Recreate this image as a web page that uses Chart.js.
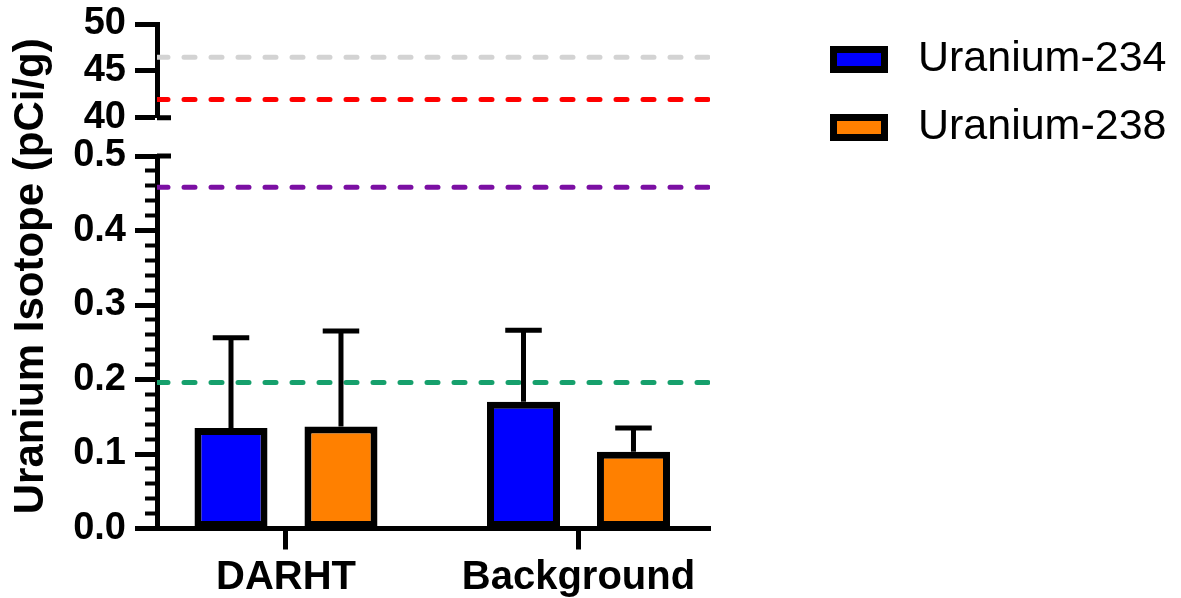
<!DOCTYPE html>
<html>
<head>
<meta charset="utf-8">
<script src="https://cdn.jsdelivr.net/npm/chart.js@4.4.1/dist/chart.umd.min.js"></script>
<style>
  html, body { margin: 0; padding: 0; background: #fff; }
</style>
</head>
<body>
<canvas id="grafico" width="1181" height="598"></canvas>
<script>
// dados
const categorias = ['DARHT', 'Background'];
const series = ['Uranium-234', 'Uranium-238'];
const u234 = [0.135, 0.170];
const u238 = [0.137, 0.103];
const u234Erro = [0.121, 0.096];
const u238Erro = [0.128, 0.032];
const coresBarras = ['#0000FF', '#FF8000'];

// linhas de referência tracejadas
const refAlto = [46.45, 41.95];
const corRefAlto = ['#D3D3D3', '#FF0000'];
const refBaixo = [0.458, 0.196];
const corRefBaixo = ['#7B0FA3', '#16A06C'];

// rótulos dos eixos
const ticksAlto = [40, 45, 50];
const ticksBaixo = ['0.0', '0.1', '0.2', '0.3', '0.4', '0.5'];

const FONTE = 'Liberation Sans, Arial, Helvetica, sans-serif';
const X_MIN = -0.441;
const X_MAX = 1.4496;

window.onload = () => {
    apresentarGrafico();
}

// barras de erro (só para cima)
const barrasDeErro = {
    id: 'barrasDeErro',
    afterDatasetsDraw(chart) {
        const ctx = chart.ctx;
        const escala = chart.scales.yLow;
        [u234Erro, u238Erro].forEach((erros, d) => {
            const meta = chart.getDatasetMeta(d);
            meta.data.forEach((barra, i) => {
                const valor = chart.data.datasets[d].data[i].y;
                const yTopo = escala.getPixelForValue(valor + erros[i]);
                const meia = barra.width / 4;
                ctx.save();
                ctx.strokeStyle = '#000';
                ctx.lineWidth = 5;
                ctx.beginPath();
                ctx.moveTo(barra.x, barra.y);
                ctx.lineTo(barra.x, yTopo - 2.5);
                ctx.moveTo(barra.x - meia, yTopo);
                ctx.lineTo(barra.x + meia, yTopo);
                ctx.stroke();
                ctx.restore();
            });
        });
    }
};

// pontas do eixo quebrado
const pontasEixo = {
    id: 'pontasEixo',
    afterDraw(chart) {
        const ctx = chart.ctx;
        const { yHigh, yLow } = chart.scales;
        ctx.save();
        ctx.strokeStyle = '#000';
        ctx.lineWidth = 5;
        ctx.beginPath();
        [[yHigh, 40], [yLow, 0.5]].forEach(([escala, v]) => {
            const y = escala.getPixelForValue(v);
            ctx.moveTo(escala.right, y);
            ctx.lineTo(escala.right + 14, y);
        });
        ctx.stroke();
        ctx.restore();
    }
};

function apresentarGrafico() {
    const barras = [u234, u238].map((valores, d) => ({
        label: series[d],
        data: categorias.map((c, i) => ({ x: i, y: valores[i] })),
        backgroundColor: coresBarras[d],
        borderColor: '#000',
        borderWidth: 7,
        borderSkipped: false,
        xAxisID: 'x',
        yAxisID: 'yLow',
        categoryPercentage: 0.752,
        barPercentage: 0.664
    }));

    const linha = (v, cor, eixo) => ({
        type: 'line',
        data: [{ x: X_MIN, y: v }, { x: X_MAX, y: v }],
        xAxisID: 'x',
        yAxisID: eixo,
        borderColor: cor,
        borderWidth: 5,
        borderDash: [11, 16],
        borderCapStyle: 'round',
        pointRadius: 0,
        fill: false
    });
    const linhas = refAlto.map((v, i) => linha(v, corRefAlto[i], 'yHigh'))
        .concat(refBaixo.map((v, i) => linha(v, corRefBaixo[i], 'yLow')));

    const fonteTick = { family: FONTE, size: 38, weight: 'bold', lineHeight: '30px' };

    const contexto = document.getElementById('grafico');
    new Chart(contexto, {
        type: 'bar',
        data: { datasets: barras.concat(linhas) },
        options: {
            responsive: false,
            animation: false,
            devicePixelRatio: 1,
            layout: { padding: { top: 13, right: 4.5, bottom: 0, left: 0 } },
            plugins: {
                tooltip: { enabled: false },
                title: {
                    display: true,
                    position: 'left',
                    fullSize: false,
                    text: 'Uranium Isotope (pCi/g)',
                    color: '#000',
                    font: { family: FONTE, size: 42, weight: 'bold', lineHeight: 1 },
                    padding: { top: 10, bottom: 10 }
                },
                legend: {
                    position: 'right',
                    align: 'start',
                    maxWidth: 500,
                    labels: {
                        boxWidth: 51,
                        boxHeight: 20,
                        padding: 25,
                        color: '#000',
                        font: { family: FONTE, size: 43 },
                        generateLabels: chart => Chart.defaults.plugins.legend.labels.generateLabels(chart)
                            .map(it => Object.assign(it, { text: ' ' + it.text })),
                        filter: item => item.datasetIndex < 2
                    }
                }
            },
            scales: {
                x: {
                    type: 'linear',
                    min: X_MIN,
                    max: X_MAX,
                    offset: false,
                    afterBuildTicks: s => { s.ticks = categorias.map((c, i) => ({ value: i })); },
                    afterFit: s => { s.height = 69.5; },
                    grid: { offset: false, drawOnChartArea: false, tickLength: 21, tickWidth: 5, tickColor: '#000' },
                    border: { color: '#000', width: 5 },
                    ticks: {
                        color: '#000',
                        padding: 4.5,
                        maxRotation: 0,
                        autoSkip: false,
                        font: { family: FONTE, size: 40, weight: 'bold' },
                        callback: v => categorias[v]
                    }
                },
                yLow: {
                    type: 'linear',
                    position: 'left',
                    stack: 'eixo',
                    stackWeight: 372.5,
                    min: 0,
                    max: 0.5,
                    afterBuildTicks: s => {
                        s.ticks = Array.from({ length: 26 }, (_, k) => ({ value: k * 0.02 }));
                    },
                    afterFit: s => { s.width = 95; },
                    grid: {
                        drawOnChartArea: false,
                        tickLength: 22,
                        tickColor: '#000',
                        tickWidth: c => (c.index % 5 === 0 ? 5 : 4),
                        tickBorderDash: c => (c.index % 5 === 0 ? [] : [0, 10, 12])
                    },
                    border: { color: '#000', width: 5 },
                    ticks: {
                        color: '#000',
                        padding: 9,
                        autoSkip: false,
                        font: fonteTick,
                        callback: (v, i) => (i % 5 === 0 ? ticksBaixo[i / 5] : '')
                    }
                },
                yGap: {
                    type: 'linear',
                    position: 'left',
                    stack: 'eixo',
                    stackWeight: 38.3,
                    afterFit: s => { s.width = 95; },
                    grid: { display: false },
                    border: { display: false },
                    ticks: { display: false }
                },
                yHigh: {
                    type: 'linear',
                    position: 'left',
                    stack: 'eixo',
                    stackWeight: 93.7,
                    min: 40,
                    max: 50,
                    afterBuildTicks: s => { s.ticks = ticksAlto.map(v => ({ value: v })); },
                    afterFit: s => { s.width = 95; },
                    grid: { drawOnChartArea: false, tickLength: 22, tickWidth: 5, tickColor: '#000' },
                    border: { color: '#000', width: 5 },
                    ticks: {
                        color: '#000',
                        padding: 9,
                        autoSkip: false,
                        font: fonteTick,
                        callback: v => String(v)
                    }
                },
                pad: {
                    type: 'linear',
                    axis: 'y',
                    position: 'right',
                    afterFit: s => { s.width = 98.5; },
                    grid: { display: false },
                    border: { display: false },
                    ticks: { display: false }
                }
            }
        },
        plugins: [barrasDeErro, pontasEixo]
    });
}
</script>
</body>
</html>
